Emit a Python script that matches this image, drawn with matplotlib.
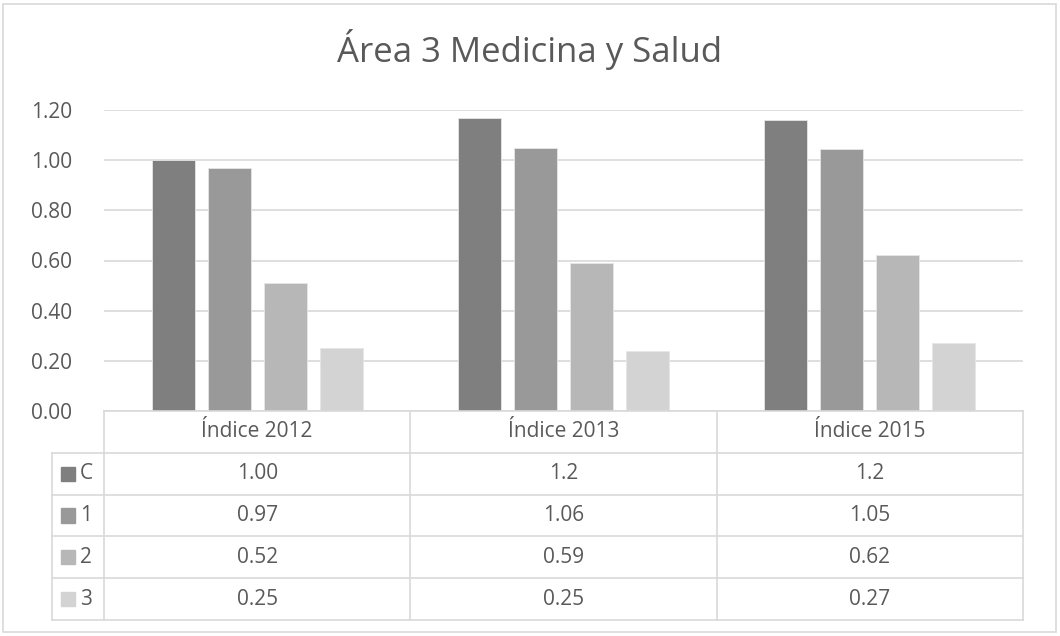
import matplotlib
matplotlib.use("Agg")
import matplotlib.pyplot as plt
from matplotlib.patches import Rectangle

title = "Área 3 Medicina y Salud"
categories = ["Índice 2012", "Índice 2013", "Índice 2015"]
series_names = ["C", "1", "2", "3"]
series_values = {
    "C": [1.00, 1.17, 1.16],
    "1": [0.97, 1.05, 1.045],
    "2": [0.51, 0.59, 0.62],
    "3": [0.25, 0.24, 0.27],
}
table_labels = {
    "C": ["1.00", "1.2", "1.2"],
    "1": ["0.97", "1.06", "1.05"],
    "2": ["0.52", "0.59", "0.62"],
    "3": ["0.25", "0.25", "0.27"],
}
yticks = [0.0, 0.2, 0.4, 0.6, 0.8, 1.0, 1.2]
colors = ["#7f7f7f", "#999999", "#b7b7b7", "#d3d3d3"]

FONT = "Open Sans"
TXT = "#595959"
GRID = "#d9d9d9"
FS = 15

W, H = 1060, 636
fig = plt.figure(figsize=(W / 100, H / 100), dpi=100)
fig.patch.set_facecolor("white")
fig.patches.append(Rectangle((3 / W, 4 / H), 1053 / W, 628 / H, transform=fig.transFigure,
                             fill=False, edgecolor=GRID, linewidth=1.2))

def px(x0, y0, x1, y1):
    return [x0 / W, 1 - y1 / H, (x1 - x0) / W, (y1 - y0) / H]

ax = fig.add_axes(px(104, 110, 1023, 411))
ax.set_xlim(-0.5, len(categories) - 0.5)
ax.set_ylim(0, 1.2)
for s in ax.spines.values():
    s.set_visible(False)
ax.set_yticks(yticks)
ax.set_yticklabels([f"{v:.2f}" for v in yticks], fontsize=FS, color=TXT, family=FONT)
ax.tick_params(axis="y", length=0, pad=23)
ax.set_xticks([])
ax.grid(axis="y", color=GRID, linewidth=1.2)
ax.set_axisbelow(True)

width = 0.14
step = 0.183
n = len(series_names)
xs = list(range(len(categories)))
for i, name in enumerate(series_names):
    off = (i - (n - 1) / 2) * step
    ax.bar([x + off for x in xs], series_values[name], width=width, color=colors[i],
           edgecolor="#e6e6e6", linewidth=0.6, zorder=3)

fig.text(0.5, 1 - 50 / H, title, ha="center", va="center", fontsize=25, color=TXT, family=FONT)

# data table
tb = fig.add_axes(px(104, 411, 1023, 620))
tb.set_xlim(-0.5, len(categories) - 0.5)
tb.set_ylim(n + 1, 0)
tb.axis("off")
lw = 1.2
u = 919 / 3  # pixels per data unit
xl = -0.5 - 52 / u  # left edge of key column
tb.plot([-0.5, 2.5], [0, 0], color=GRID, lw=lw, clip_on=False)
for r in range(1, n + 2):
    tb.plot([xl, 2.5], [r, r], color=GRID, lw=lw, clip_on=False)
for c in range(len(categories) + 1):
    tb.plot([c - 0.5, c - 0.5], [0, n + 1], color=GRID, lw=lw, clip_on=False)
tb.plot([xl, xl], [1, n + 1], color=GRID, lw=lw, clip_on=False)

for j, cat in enumerate(categories):
    tb.text(j, 0.5, cat, ha="center", va="center", fontsize=FS, color=TXT, family=FONT)
for i, name in enumerate(series_names):
    y = i + 1.5
    for j in range(len(categories)):
        tb.text(j, y, table_labels[name][j], ha="center", va="center", fontsize=FS,
                color=TXT, family=FONT)
    kx = xl + 9 / u
    ks = 14 / u
    tb.add_patch(Rectangle((kx, y - 0.17), ks, 0.34, color=colors[i], clip_on=False))
    tb.text(kx + ks + 5 / u, y, name, ha="left", va="center", fontsize=FS,
            color=TXT, family=FONT)

fig.savefig("out.png", dpi=100)
